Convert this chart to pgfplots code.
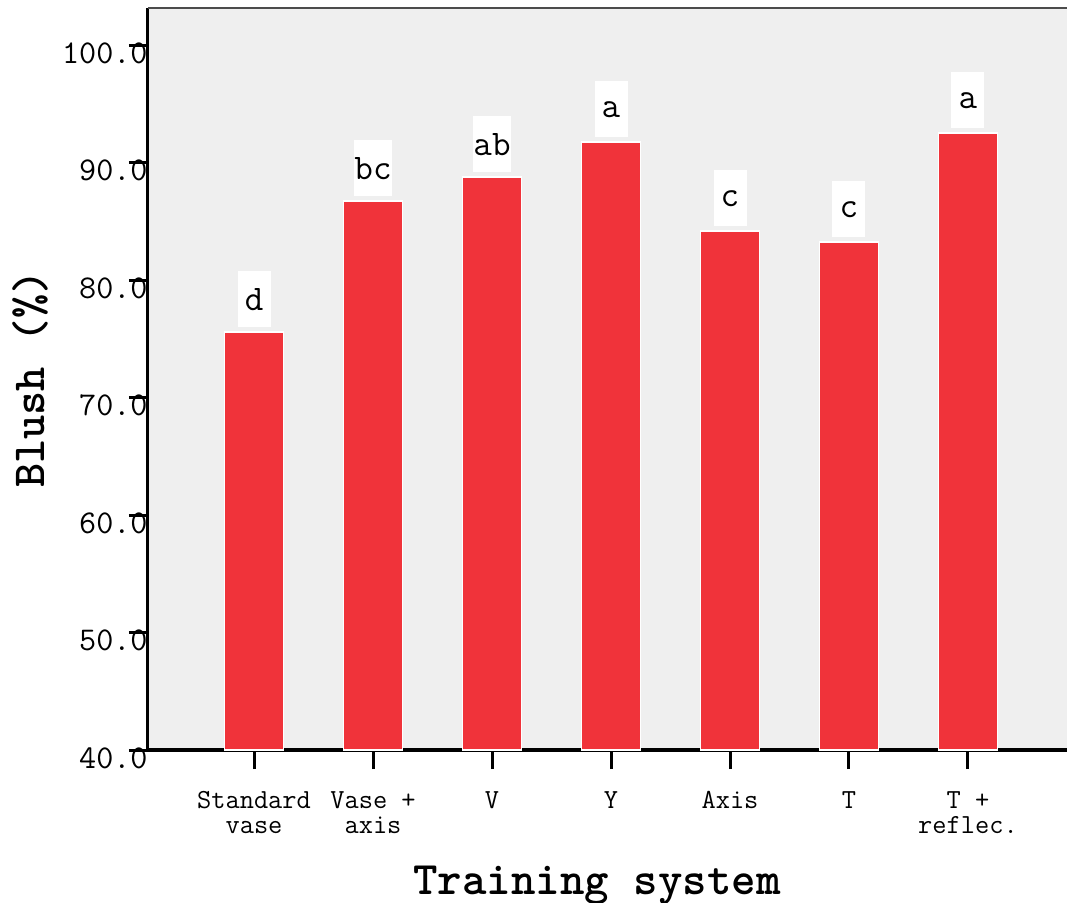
\documentclass[border=0pt]{standalone}
\usepackage{fontspec}
\usepackage{pgfplots}
\pgfplotsset{compat=1.18}
\definecolor{barred}{RGB}{240,51,58}
\definecolor{bgg}{RGB}{239,239,239}
\begin{document}
\ttfamily
\begin{tikzpicture}
\path[use as bounding box] (0,0) rectangle (533.5pt,451pt);
\begin{axis}[
  at={(74pt,76pt)}, anchor=south west,
  scale only axis, width=459.5pt, height=371pt,
  xmin=-0.891, xmax=6.832, ymin=40, ymax=103.15,
  axis background/.style={fill=bgg},
  axis x line=bottom, axis y line=left,
  axis line style={-, black},
  x axis line style={line width=2pt},
  y axis line style={line width=1.5pt},
  ytick={40,50,60,70,80,90,100},
  yticklabel style={font=\ttfamily\fontsize{16.6}{16.6}\selectfont, anchor=east, inner sep=0pt, yshift=-4pt, xshift=9.5pt,
    /pgf/number format/fixed, /pgf/number format/fixed zerofill, /pgf/number format/precision=1},
  /pgf/number format/assume math mode=true,
  tick align=outside,
  major tick length=9.5pt,
  every tick/.style={black, line width=1.5pt},
  xtick={0,1,2,3,4,5,6},
  xticklabels={{Standard\\vase},{Vase +\\axis},{V},{Y},{Axis},{T},{T +\\reflec.}},
  xticklabel style={font=\ttfamily\fontsize{13.8}{12.4}\selectfont, align=center, anchor=north, inner sep=0pt, yshift=-11pt},
  xlabel={\bfseries Training system},
  ylabel={\bfseries Blush (\%)},
  xlabel style={font=\ttfamily\fontsize{23.3}{23.3}\selectfont, at={(axis description cs:0.4886,0)}, anchor=center, yshift=-67.5pt},
  ylabel style={font=\ttfamily\fontsize{23}{23}\selectfont, at={(axis description cs:0,0.5)}, anchor=center, yshift=59pt},
  clip=false,
]
\addplot[ybar, bar width=29.5pt, fill=barred, draw=white, line width=0.8pt,
  nodes near coords, point meta=explicit symbolic,
  every node near coord/.append style={fill=white, minimum width=16.5pt, minimum height=28pt, inner sep=0pt, anchor=south, yshift=2pt, font=\ttfamily\fontsize{18}{18}\selectfont, text=black}]
  table[meta=lab] {
  x y lab
  0 75.57 d
  1 86.72 bc
  2 88.77 ab
  3 91.74 a
  4 84.17 c
  5 83.23 c
  6 92.51 a
  };
\draw[gray!60!black, line width=0.8pt] (rel axis cs:0,1) -- (rel axis cs:1,1);
\end{axis}
\end{tikzpicture}
\end{document}
